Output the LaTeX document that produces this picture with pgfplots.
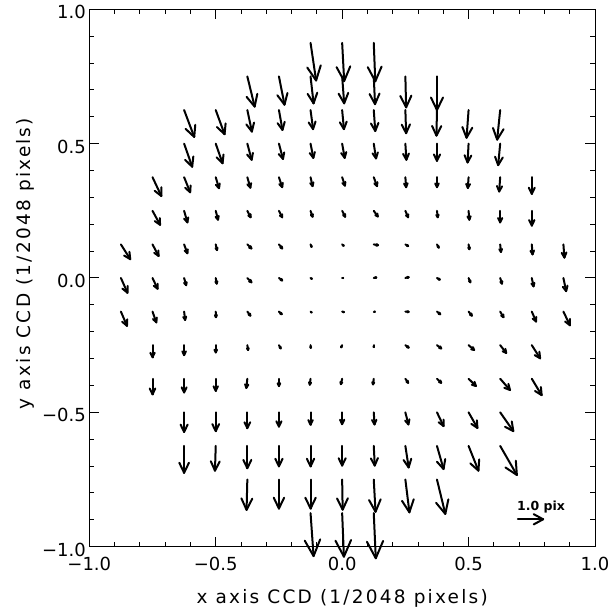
\documentclass[border=0pt]{standalone}
\usepackage{pgfplots}
\pgfplotsset{compat=1.18}
\usepackage{pgfplotstable}
\usepackage{fontspec}
\setmainfont{DejaVu Sans}
\newfontfamily\labfont{DejaVu Sans}[LetterSpace=12]

% distortion vectors: grid position (x,y) and displacement (u,v) in pix
\pgfplotstableread{
x y u v
-0.125 0.875 0.22 -1.40
0 0.875 0.08 -1.42
0.125 0.875 0.06 -1.43
-0.375 0.75 0.29 -1.12
-0.25 0.75 0.22 -1.05
-0.125 0.75 0.12 -1.00
0 0.75 0.08 -1.00
0.125 0.75 0.05 -1.03
0.25 0.75 0.03 -1.15
0.375 0.75 0.00 -1.25
-0.625 0.625 0.40 -1.00
-0.5 0.625 0.35 -0.90
-0.375 0.625 0.18 -0.80
-0.25 0.625 0.14 -0.74
-0.125 0.625 0.10 -0.71
0 0.625 0.07 -0.71
0.125 0.625 0.06 -0.78
0.25 0.625 0.03 -0.86
0.375 0.625 -0.02 -0.95
0.5 0.625 -0.08 -1.03
0.625 0.625 -0.12 -1.10
-0.625 0.5 0.32 -0.86
-0.5 0.5 0.27 -0.73
-0.375 0.5 0.17 -0.60
-0.25 0.5 0.16 -0.57
-0.125 0.5 0.11 -0.53
0 0.5 0.10 -0.53
0.125 0.5 0.09 -0.55
0.25 0.5 0.04 -0.60
0.375 0.5 0.00 -0.64
0.5 0.5 -0.04 -0.70
0.625 0.5 -0.08 -0.80
-0.75 0.375 0.35 -0.70
-0.625 0.375 0.24 -0.56
-0.5 0.375 0.13 -0.41
-0.375 0.375 0.12 -0.39
-0.25 0.375 0.13 -0.37
-0.125 0.375 0.08 -0.33
0 0.375 0.11 -0.31
0.125 0.375 0.13 -0.33
0.25 0.375 0.03 -0.37
0.375 0.375 0.00 -0.37
0.5 0.375 -0.03 -0.40
0.625 0.375 -0.04 -0.53
0.75 0.375 0.00 -0.62
-0.75 0.25 0.30 -0.52
-0.625 0.25 0.13 -0.43
-0.5 0.25 0.09 -0.33
-0.375 0.25 0.13 -0.24
-0.25 0.25 0.13 -0.24
-0.125 0.25 0.08 -0.22
0 0.25 0.12 -0.22
0.125 0.25 0.16 -0.21
0.25 0.25 0.11 -0.24
0.375 0.25 0.03 -0.24
0.5 0.25 0.03 -0.33
0.625 0.25 0.00 -0.43
0.75 0.25 0.00 -0.55
-0.875 0.125 0.37 -0.55
-0.75 0.125 0.24 -0.43
-0.625 0.125 0.13 -0.33
-0.5 0.125 0.05 -0.21
-0.375 0.125 0.16 -0.15
-0.25 0.125 0.13 -0.15
-0.125 0.125 0.04 -0.09
0 0.125 0.06 -0.05
0.125 0.125 0.17 -0.03
0.25 0.125 0.11 -0.06
0.375 0.125 0.07 -0.12
0.5 0.125 0.03 -0.18
0.625 0.125 0.03 -0.28
0.75 0.125 0.03 -0.37
0.875 0.125 0.04 -0.49
-0.875 0 0.26 -0.55
-0.75 0 0.20 -0.40
-0.625 0 0.08 -0.27
-0.5 0 0.04 -0.21
-0.375 0 0.16 -0.16
-0.25 0 0.13 -0.09
-0.125 0 0.05 -0.03
0 0 0.04 0.00
0.125 0 0.10 0.02
0.25 0 0.13 0.03
0.375 0 0.11 -0.06
0.5 0 0.07 -0.16
0.625 0 0.07 -0.21
0.75 0 0.07 -0.31
0.875 0 0.11 -0.49
-0.875 -0.125 0.24 -0.53
-0.75 -0.125 0.15 -0.40
-0.625 -0.125 0.04 -0.31
-0.5 -0.125 0.01 -0.21
-0.375 -0.125 0.12 -0.15
-0.25 -0.125 0.11 -0.10
-0.125 -0.125 0.04 -0.03
0 -0.125 0.07 -0.02
0.125 -0.125 0.04 0.00
0.25 -0.125 0.13 -0.01
0.375 -0.125 0.13 -0.10
0.5 -0.125 0.13 -0.15
0.625 -0.125 0.13 -0.21
0.75 -0.125 0.17 -0.37
0.875 -0.125 0.26 -0.51
-0.75 -0.25 0.00 -0.45
-0.625 -0.25 0.00 -0.37
-0.5 -0.25 0.00 -0.27
-0.375 -0.25 0.03 -0.18
-0.25 -0.25 0.07 -0.12
-0.125 -0.25 0.01 -0.10
0 -0.25 -0.04 -0.08
0.125 -0.25 0.00 -0.07
0.25 -0.25 0.13 -0.09
0.375 -0.25 0.17 -0.12
0.5 -0.25 0.22 -0.18
0.625 -0.25 0.24 -0.29
0.75 -0.25 0.33 -0.49
-0.75 -0.375 0.00 -0.58
-0.625 -0.375 0.00 -0.51
-0.5 -0.375 0.00 -0.45
-0.375 -0.375 -0.04 -0.34
-0.25 -0.375 0.00 -0.27
-0.125 -0.375 -0.03 -0.22
0 -0.375 -0.05 -0.20
0.125 -0.375 -0.03 -0.21
0.25 -0.375 0.11 -0.15
0.375 -0.375 0.17 -0.15
0.5 -0.375 0.29 -0.27
0.625 -0.375 0.39 -0.42
0.75 -0.375 0.39 -0.61
-0.625 -0.5 0.00 -0.73
-0.5 -0.5 0.00 -0.70
-0.375 -0.5 0.00 -0.59
-0.25 -0.5 0.00 -0.53
-0.125 -0.5 0.00 -0.46
0 -0.5 0.00 -0.44
0.125 -0.5 0.03 -0.45
0.25 -0.5 0.12 -0.45
0.375 -0.5 0.26 -0.51
0.5 -0.5 0.35 -0.58
0.625 -0.5 0.52 -0.70
-0.625 -0.625 0.00 -1.00
-0.5 -0.625 -0.03 -0.92
-0.375 -0.625 0.00 -0.83
-0.25 -0.625 0.00 -0.76
-0.125 -0.625 0.00 -0.76
0 -0.625 0.00 -0.73
0.125 -0.625 0.04 -0.73
0.25 -0.625 0.13 -0.80
0.375 -0.625 0.26 -0.86
0.5 -0.625 0.39 -0.92
0.625 -0.625 0.66 -1.08
-0.375 -0.75 -0.03 -1.13
-0.25 -0.75 0.00 -1.08
-0.125 -0.75 0.00 -1.08
0 -0.75 0.02 -1.12
0.125 -0.75 0.07 -1.20
0.25 -0.75 0.16 -1.22
0.375 -0.75 0.33 -1.28
-0.125 -0.875 0.12 -1.60
0 -0.875 0.07 -1.62
0.125 -0.875 0.08 -1.68
}\data

% scale arrow (1.0 pix)
\pgfplotstableread{
x y u v
0.695 -0.898 1.0 0.0
}\keyarrow

\pgfplotsset{
  vec/.style={black, line width=2bp, line cap=round, line join=round},
}

\begin{document}
\begin{tikzpicture}
\path[use as bounding box] (-89.3bp,-63.3bp) rectangle (525.7bp,546.7bp);
\begin{axis}[
  at={(0,0)}, anchor=south west,
  scale only axis, width=505.7bp, height=537.4bp,
  xmin=-1, xmax=1, ymin=-1, ymax=1,
  clip=false,
  axis line style={line width=1bp},
  xtick={-1,-0.5,0,0.5,1}, ytick={-1,-0.5,0,0.5,1},
  xticklabels={−1.0,−0.5,0.0,0.5,1.0},
  yticklabels={−1.0,−0.5,0.0,0.5,1.0},
  minor x tick num=4, minor y tick num=4,
  tick align=inside, xtick pos=both, ytick pos=both,
  major tick length=10bp, minor tick length=5bp,
  every tick/.style={black, line width=1bp},
  tick label style={font=\fontsize{18bp}{20bp}\selectfont},
  xticklabel style={yshift=-7.3bp},
  yticklabel style={yshift=-3bp},
  xlabel={x axis CCD (1/2048 pixels)},
  ylabel={y axis CCD (1/2048 pixels)},
  every axis x label/.style={at={(axis description cs:0.5,0)}, anchor=base, yshift=-56.8bp, font=\labfont\fontsize{18.5bp}{20bp}\selectfont},
  every axis y label/.style={at={([xshift=-63.8bp,yshift=14.5bp]axis description cs:0,0.5)}, rotate=90, anchor=center, font=\labfont\fontsize{18.5bp}{20bp}\selectfont},
]
% shafts
\addplot[vec, quiver={u=\thisrow{u}, v=\thisrow{v}, scale arrows=0.1}] table[x=x, y=y] {\data};
% arrowhead barbs (length 0.42 of the vector, 27 degrees)
\addplot[vec, quiver={u={-(0.03742*\thisrow{u}-0.01907*\thisrow{v})}, v={-(0.01907*\thisrow{u}+0.03742*\thisrow{v})}}]
  table[x expr={\thisrow{x}+0.1*\thisrow{u}}, y expr={\thisrow{y}+0.1*\thisrow{v}}] {\data};
\addplot[vec, quiver={u={-(0.03742*\thisrow{u}+0.01907*\thisrow{v})}, v={0.01907*\thisrow{u}-0.03742*\thisrow{v}}}]
  table[x expr={\thisrow{x}+0.1*\thisrow{u}}, y expr={\thisrow{y}+0.1*\thisrow{v}}] {\data};
% scale arrow
\addplot[vec, quiver={u=\thisrow{u}, v=\thisrow{v}, scale arrows=0.1}] table[x=x, y=y] {\keyarrow};
\addplot[vec, quiver={u={-(0.03742*\thisrow{u}-0.01907*\thisrow{v})}, v={-(0.01907*\thisrow{u}+0.03742*\thisrow{v})}}]
  table[x expr={\thisrow{x}+0.1*\thisrow{u}}, y expr={\thisrow{y}+0.1*\thisrow{v}}] {\keyarrow};
\addplot[vec, quiver={u={-(0.03742*\thisrow{u}+0.01907*\thisrow{v})}, v={0.01907*\thisrow{u}-0.03742*\thisrow{v}}}]
  table[x expr={\thisrow{x}+0.1*\thisrow{u}}, y expr={\thisrow{y}+0.1*\thisrow{v}}] {\keyarrow};
\node[anchor=base west, inner sep=0pt, font=\bfseries\fontsize{12.5bp}{14bp}\selectfont] at (axis cs:0.691,-0.867) {1.0 pix};
\end{axis}
\end{tikzpicture}
\end{document}
